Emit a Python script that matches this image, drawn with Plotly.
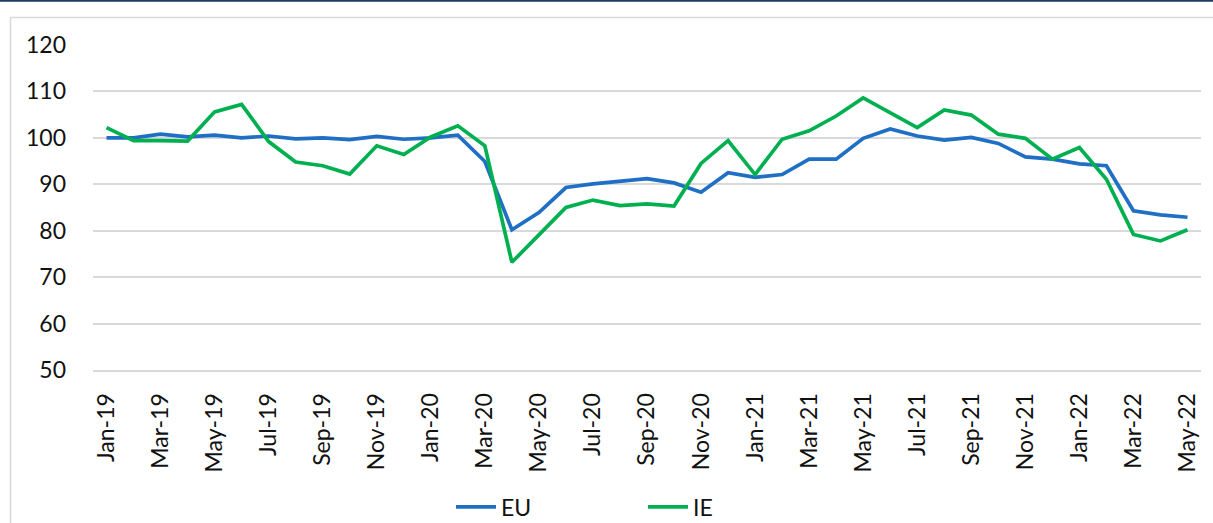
import plotly.graph_objects as go

months = ["Jan-19","Feb-19","Mar-19","Apr-19","May-19","Jun-19","Jul-19","Aug-19","Sep-19","Oct-19","Nov-19","Dec-19",
          "Jan-20","Feb-20","Mar-20","Apr-20","May-20","Jun-20","Jul-20","Aug-20","Sep-20","Oct-20","Nov-20","Dec-20",
          "Jan-21","Feb-21","Mar-21","Apr-21","May-21","Jun-21","Jul-21","Aug-21","Sep-21","Oct-21","Nov-21","Dec-21",
          "Jan-22","Feb-22","Mar-22","Apr-22","May-22"]

eu = [100.0, 100.0, 100.8, 100.2, 100.6, 100.0, 100.4, 99.8, 100.0, 99.6, 100.3, 99.7,
      100.0, 100.6, 94.9, 80.2, 83.9, 89.3, 90.1, 90.6, 91.2, 90.3, 88.3, 92.5,
      91.5, 92.1, 95.4, 95.4, 99.9, 101.9, 100.4, 99.5, 100.1, 98.8, 95.9, 95.4,
      94.4, 94.0, 84.3, 83.4, 82.9]

ie = [102.2, 99.4, 99.4, 99.3, 105.6, 107.2, 99.2, 94.8, 94.0, 92.2, 98.3, 96.4,
      100.2, 102.6, 98.3, 73.2, 79.1, 85.0, 86.6, 85.4, 85.8, 85.3, 94.5, 99.4,
      92.1, 99.7, 101.5, 104.7, 108.6, 105.4, 102.2, 106.0, 104.9, 100.8, 99.9, 95.4,
      97.9, 91.1, 79.2, 77.8, 80.2]

y_ticks = [50, 60, 70, 80, 90, 100, 110, 120]

W, H = 1213, 523
ML, MR, MT, MB = 93, 12, 45, 153
pw, ph = W - ML - MR, H - MT - MB

def px_x(p):
    return (p - ML) / pw

def px_y(p):
    return (H - MB - p) / ph

idx = list(range(len(months)))
FONT = "Lato"
TXT = "#111111"
GRID = "#d9d9d9"

fig = go.Figure()
fig.add_trace(go.Scatter(x=idx, y=eu, name="EU", mode="lines",
                         line=dict(color="#1f6fc5", width=3.7)))
fig.add_trace(go.Scatter(x=idx, y=ie, name="IE", mode="lines",
                         line=dict(color="#00b050", width=3.7)))

fig.update_layout(
    width=W, height=H,
    margin=dict(l=ML, r=MR, t=MT, b=MB, autoexpand=False),
    paper_bgcolor="white", plot_bgcolor="white",
    font=dict(family=FONT, size=23, color=TXT),
    showlegend=True,
    legend=dict(orientation="h", x=px_x(451), xanchor="left", y=px_y(507), yanchor="middle",
                entrywidth=137, entrywidthmode="pixels", font=dict(size=23, color=TXT),
                bgcolor="rgba(0,0,0,0)", itemwidth=40),
    xaxis=dict(range=[-0.5, len(months) - 0.5], tickmode="array", automargin=False,
               tickvals=idx[::2], ticktext=months[::2], tickangle=-90,
               showgrid=False, zeroline=False, ticks="", ticklabelstandoff=12,
               showline=True, linecolor=GRID, linewidth=2),
    xaxis2=dict(range=[-0.5, len(months) - 0.5], overlaying="x", anchor="y", side="bottom",
                tickmode="array", tickvals=[i - 0.5 for i in idx[::2]], automargin=False,
                ticks="outside", ticklen=7, tickwidth=2, tickcolor=GRID,
                showticklabels=False, showgrid=False, zeroline=False),
    yaxis=dict(range=[50, 120], tickmode="array", tickvals=y_ticks, automargin=False,
               showgrid=True, gridcolor=GRID, gridwidth=2, zeroline=False,
               ticks="", ticklabelstandoff=26, showline=False),
    shapes=[
        dict(type="line", xref="paper", yref="paper", x0=px_x(0), x1=px_x(W), y0=px_y(0.8), y1=px_y(0.8),
             line=dict(color="#1f3864", width=2), layer="above"),
        dict(type="line", xref="paper", yref="paper", x0=px_x(10), x1=px_x(W), y0=px_y(17.5), y1=px_y(17.5),
             line=dict(color=GRID, width=1.5), layer="below"),
        dict(type="line", xref="paper", yref="paper", x0=px_x(10.5), x1=px_x(10.5), y0=px_y(17.5), y1=px_y(H),
             line=dict(color=GRID, width=1.5), layer="below"),
    ],
)

fig.write_html("out.html", config={"displayModeBar": False},
               post_script="document.body.style.margin='0';document.body.style.overflow='hidden';")
